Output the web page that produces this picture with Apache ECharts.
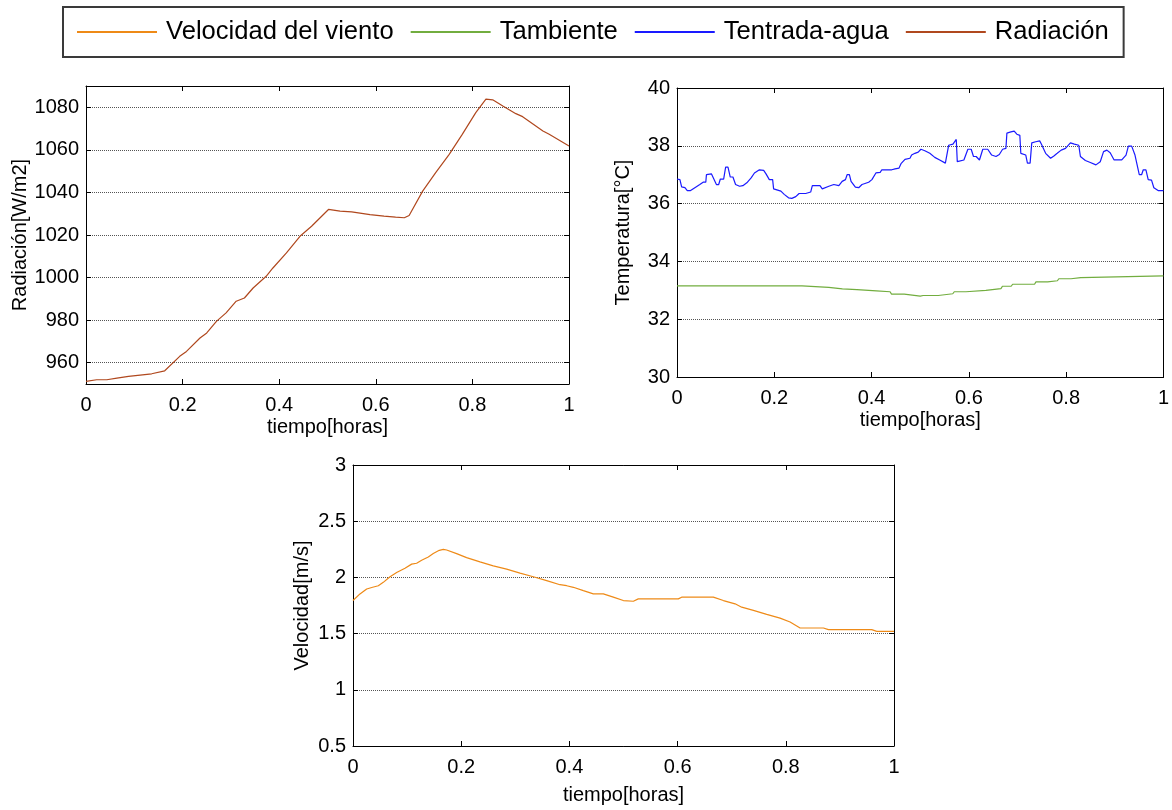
<!DOCTYPE html>
<html>
<head>
<meta charset="utf-8">
<script src="https://cdn.jsdelivr.net/npm/echarts@6/dist/echarts.min.js"></script>
<style>
  html, body { margin: 0; padding: 0; background: #fff; }
  #chart { width: 1172px; height: 810px; }
</style>
</head>
<body>
<div id="chart"></div>
<script>
// Radiación solar [W/m2] vs tiempo [horas]
const radT = [0, 0.022, 0.043, 0.064, 0.088, 0.112, 0.136, 0.163, 0.194, 0.208, 0.236, 0.25, 0.27, 0.29, 0.311, 0.328, 0.346, 0.373, 0.387, 0.415, 0.443, 0.467, 0.502, 0.526, 0.55, 0.588, 0.617, 0.641, 0.659, 0.669, 0.697, 0.724, 0.752, 0.779, 0.807, 0.828, 0.842, 0.863, 0.89, 0.904, 0.946, 0.959, 1.0];
const radV = [951.2, 952.0, 952.0, 952.8, 953.6, 954.2, 954.8, 956.2, 963.0, 965.3, 971.6, 974.0, 979.4, 983.4, 988.9, 990.4, 995.1, 1000.6, 1004.5, 1011.6, 1019.4, 1024.1, 1032.0, 1031.2, 1030.9, 1029.6, 1028.9, 1028.4, 1028.1, 1029.2, 1040.6, 1049.3, 1057.9, 1067.3, 1077.5, 1083.8, 1083.5, 1080.6, 1077.0, 1075.6, 1068.9, 1067.3, 1061.8];

// Temperatura ambiente [°C]
const tambT = [0, 0.257, 0.26, 0.312, 0.316, 0.34, 0.344, 0.37, 0.374, 0.41, 0.414, 0.438, 0.441, 0.467, 0.47, 0.5, 0.503, 0.506, 0.537, 0.54, 0.567, 0.57, 0.594, 0.597, 0.635, 0.639, 0.666, 0.669, 0.687, 0.69, 0.735, 0.738, 0.762, 0.765, 0.782, 0.785, 0.81, 0.813, 0.83, 0.833, 1.0];
const tambV = [33.15, 33.15, 33.1, 33.1, 33.05, 33.05, 33.02, 33.02, 32.98, 32.98, 32.95, 32.95, 32.87, 32.87, 32.81, 32.8, 32.78, 32.82, 32.82, 32.88, 32.88, 32.95, 32.95, 33.0, 33.0, 33.06, 33.06, 33.14, 33.14, 33.21, 33.21, 33.29, 33.29, 33.33, 33.33, 33.4, 33.4, 33.44, 33.44, 33.5, 33.5];

// Temperatura de entrada del agua [°C]
const tentT = [0, 0.006, 0.0095, 0.0163, 0.0211, 0.0279, 0.0367, 0.0469, 0.0537, 0.0592, 0.0605, 0.0707, 0.0741, 0.081, 0.0857, 0.0891, 0.0959, 0.1, 0.1048, 0.1095, 0.115, 0.1204, 0.1286, 0.1354, 0.1435, 0.1524, 0.1592, 0.1694, 0.1782, 0.183, 0.1898, 0.1966, 0.1986, 0.2136, 0.2204, 0.2293, 0.2361, 0.2442, 0.251, 0.2646, 0.2748, 0.2782, 0.2939, 0.2986, 0.3122, 0.3224, 0.3327, 0.3395, 0.3463, 0.3497, 0.3544, 0.3578, 0.3667, 0.3735, 0.3803, 0.394, 0.4007, 0.4089, 0.4177, 0.4211, 0.428, 0.4313, 0.4415, 0.4483, 0.4565, 0.4605, 0.4687, 0.4789, 0.4823, 0.4891, 0.4959, 0.5014, 0.5095, 0.5197, 0.5299, 0.5401, 0.5517, 0.5537, 0.5585, 0.5673, 0.5741, 0.5762, 0.5898, 0.598, 0.6048, 0.6095, 0.615, 0.6218, 0.6286, 0.6388, 0.6469, 0.6558, 0.6626, 0.6694, 0.6762, 0.6782, 0.6864, 0.6932, 0.6986, 0.7048, 0.7068, 0.717, 0.7204, 0.7259, 0.7293, 0.7374, 0.7456, 0.749, 0.7578, 0.768, 0.7748, 0.7816, 0.7898, 0.7986, 0.8088, 0.817, 0.8259, 0.8293, 0.8395, 0.8497, 0.8612, 0.8701, 0.8769, 0.8837, 0.8905, 0.8986, 0.9143, 0.9231, 0.9279, 0.9347, 0.9415, 0.9503, 0.9551, 0.9585, 0.964, 0.9687, 0.9755, 0.9803, 0.989, 1.0];
const tentV = [36.85, 36.83, 36.58, 36.55, 36.45, 36.45, 36.55, 36.66, 36.74, 36.74, 37.0, 37.03, 37.06, 36.66, 36.66, 36.85, 36.85, 37.26, 37.26, 36.92, 36.92, 36.66, 36.6, 36.62, 36.72, 36.89, 37.06, 37.17, 37.15, 37.03, 36.83, 36.83, 36.51, 36.43, 36.32, 36.2, 36.18, 36.24, 36.35, 36.35, 36.4, 36.62, 36.62, 36.51, 36.6, 36.66, 36.62, 36.77, 36.83, 37.0, 37.0, 36.77, 36.57, 36.55, 36.66, 36.74, 36.83, 37.06, 37.08, 37.17, 37.17, 37.11, 37.17, 37.2, 37.23, 37.38, 37.53, 37.57, 37.68, 37.74, 37.78, 37.88, 37.83, 37.74, 37.6, 37.51, 37.4, 37.45, 38.02, 38.06, 38.22, 37.45, 37.51, 37.88, 37.88, 37.63, 37.63, 37.51, 37.88, 37.88, 37.68, 37.63, 37.7, 37.88, 37.91, 38.44, 38.48, 38.51, 38.4, 38.36, 37.74, 37.68, 37.4, 37.4, 38.1, 38.14, 38.17, 38.06, 37.74, 37.57, 37.65, 37.74, 37.85, 37.91, 38.1, 38.06, 38.02, 37.63, 37.49, 37.42, 37.34, 37.45, 37.8, 37.85, 37.76, 37.51, 37.51, 37.68, 37.99, 37.99, 37.68, 37.0, 37.0, 37.17, 37.17, 36.83, 36.81, 36.55, 36.45, 36.45];

// Velocidad del viento [m/s]
const velT = [0, 0.0129, 0.0253, 0.0363, 0.0468, 0.056, 0.0684, 0.0807, 0.0961, 0.1084, 0.1176, 0.1269, 0.1392, 0.1484, 0.1595, 0.1669, 0.1731, 0.1915, 0.21, 0.2347, 0.2593, 0.284, 0.3087, 0.3333, 0.358, 0.3826, 0.395, 0.4073, 0.4258, 0.4442, 0.4627, 0.4812, 0.4997, 0.5182, 0.5273, 0.6013, 0.6075, 0.6661, 0.6846, 0.7062, 0.7185, 0.7401, 0.7647, 0.7894, 0.8079, 0.8264, 0.8696, 0.8788, 0.9589, 0.9681, 1.0];
const velV = [1.794, 1.853, 1.897, 1.912, 1.926, 1.956, 2.006, 2.044, 2.082, 2.118, 2.126, 2.153, 2.182, 2.212, 2.241, 2.25, 2.244, 2.212, 2.176, 2.138, 2.103, 2.074, 2.038, 2.006, 1.971, 1.935, 1.926, 1.912, 1.882, 1.853, 1.853, 1.824, 1.794, 1.788, 1.809, 1.809, 1.824, 1.824, 1.794, 1.765, 1.735, 1.706, 1.671, 1.638, 1.603, 1.55, 1.55, 1.535, 1.535, 1.52, 1.52];

const seriesNames = ['Velocidad del viento', 'Tambiente', 'Tentrada-agua', 'Radiación'];
const xTitle = 'tiempo[horas]';
const yTitles = ['Radiación[W/m2]', 'Temperatura[°C]', 'Velocidad[m/s]'];

const FONT = 'Liberation Sans, Arial, Helvetica, sans-serif';
const pairs = (t, v) => t.map((x, i) => [x, v[i]]);
const plainNumber = (v) => String(v);

const chart = echarts.init(document.getElementById('chart'), null, { renderer: 'canvas' });

const frameLine = { show: true, onZero: false, lineStyle: { color: '#000', width: 1 } };
const tickIn = { show: true, inside: true, length: 5, lineStyle: { color: '#000', width: 1 } };
const gridLine = { show: true, lineStyle: { color: '#555', width: 1, type: [1, 1] } };

function xAxes(gridIndex, nameGap) {
  return [
    {
      type: 'value', gridIndex, position: 'bottom', min: 0, max: 1, interval: 0.2,
      name: xTitle, nameLocation: 'middle', nameGap,
      nameTextStyle: { color: '#000', fontSize: 20, fontFamily: FONT },
      axisLine: frameLine, axisTick: tickIn, splitLine: { show: false },
      axisLabel: { color: '#000', fontSize: 20, fontFamily: FONT, margin: 11, formatter: plainNumber }
    },
    {
      type: 'value', gridIndex, position: 'top', min: 0, max: 1, interval: 0.2,
      axisLine: frameLine, axisTick: tickIn, splitLine: { show: false },
      axisLabel: { show: false }
    }
  ];
}

function yAxes(gridIndex, range, title, nameGap) {
  const common = { type: 'value', gridIndex, min: range.min, max: range.max };
  if (range.interval) common.interval = range.interval;
  if (range.splitNumber) common.splitNumber = range.splitNumber;
  return [
    Object.assign({}, common, {
      position: 'left',
      name: title, nameLocation: 'middle', nameGap, nameRotate: 90,
      nameTextStyle: { color: '#000', fontSize: 20, fontFamily: FONT },
      axisLine: frameLine, axisTick: tickIn, splitLine: gridLine,
      axisLabel: { color: '#000', fontSize: 20, fontFamily: FONT, margin: 7,
        formatter: plainNumber,
        showMinLabel: range.edgeLabels, showMaxLabel: range.edgeLabels }
    }),
    Object.assign({}, common, {
      position: 'right',
      axisLine: frameLine, axisTick: tickIn, splitLine: { show: false },
      axisLabel: { show: false }
    })
  ];
}

const option = {
  backgroundColor: '#fff',
  animation: false,
  legend: {
    data: seriesNames,
    left: 63, top: 7,
    orient: 'horizontal',
    icon: 'rect',
    itemWidth: 80, itemHeight: 2, itemGap: 17,
    padding: [12, 15, 12, 14],
    borderColor: '#3a3a3a', borderWidth: 2,
    backgroundColor: '#fff',
    textStyle: { color: '#000', fontSize: 25.6, fontFamily: FONT, padding: [3, 0, 0, 4] },
    selectedMode: false
  },
  grid: [
    { left: 86, top: 86, width: 483, height: 298 },
    { left: 677, top: 88, width: 490, height: 289 },
    { left: 353, top: 465, width: 541, height: 281 }
  ],
  xAxis: [].concat(xAxes(0, 33), xAxes(1, 33), xAxes(2, 39)),
  yAxis: [].concat(
    yAxes(0, { min: 950, max: 1090, splitNumber: 7, edgeLabels: false }, yTitles[0], 55),
    yAxes(1, { min: 30, max: 40, interval: 2, edgeLabels: true }, yTitles[1], 44),
    yAxes(2, { min: 0.5, max: 3, interval: 0.5, edgeLabels: true }, yTitles[2], 41)
  ),
  series: [
    {
      name: seriesNames[0], type: 'line', xAxisIndex: 4, yAxisIndex: 4,
      data: pairs(velT, velV), showSymbol: false, symbol: 'none',
      color: '#EE8A17', lineStyle: { width: 1.2 }
    },
    {
      name: seriesNames[1], type: 'line', xAxisIndex: 2, yAxisIndex: 2,
      data: pairs(tambT, tambV), showSymbol: false, symbol: 'none',
      color: '#72AD3F', lineStyle: { width: 1.2 }
    },
    {
      name: seriesNames[2], type: 'line', xAxisIndex: 2, yAxisIndex: 2,
      data: pairs(tentT, tentV), showSymbol: false, symbol: 'none',
      color: '#1A1AFF', lineStyle: { width: 1.2 }
    },
    {
      name: seriesNames[3], type: 'line', xAxisIndex: 0, yAxisIndex: 0,
      data: pairs(radT, radV), showSymbol: false, symbol: 'none',
      color: '#B0481E', lineStyle: { width: 1.2 }
    }
  ]
};

chart.setOption(option);
</script>
</body>
</html>
